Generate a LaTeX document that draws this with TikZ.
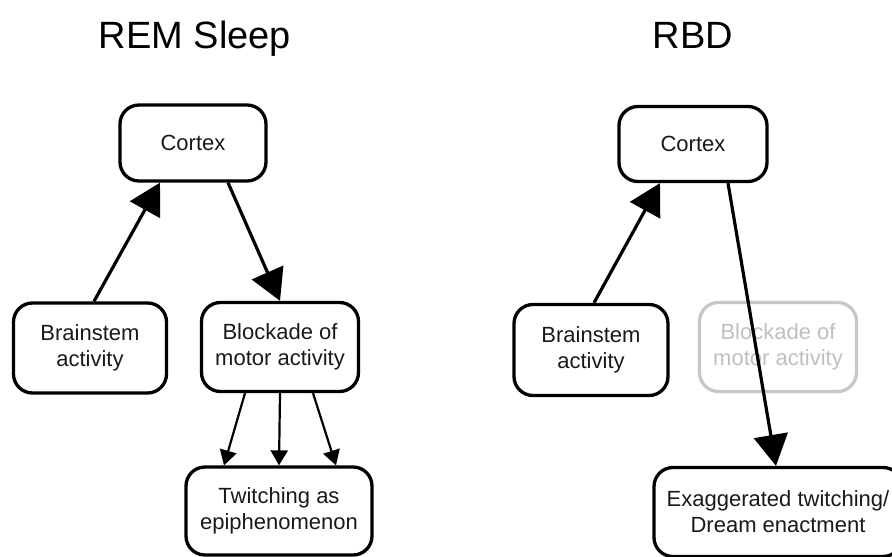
\documentclass[tikz,border=0pt]{standalone}
\usepackage{fontspec}
\setmainfont{Liberation Sans}
\usetikzlibrary{arrows.meta}
\usetikzlibrary{positioning}

\begin{document}
\begin{tikzpicture}[
          x=1pt, y=-1pt,
          box/.style = {rectangle, rounded corners=19pt, draw, line width=3.3pt, align=center, inner sep=0pt,
                        font=\fontsize{22}{26}\selectfont, text=black!90},
          faded/.style = {box, draw=black!22, text=black!25},
          title/.style = {anchor=base, font=\fontsize{38}{44}\selectfont},
          arrow/.style = {line width=3.2pt, -{Triangle[length=31pt,width=34pt]}},
          thin arrow/.style = {line width=2.2pt, -{Triangle[length=15pt,width=17pt]}}
        ]
        \useasboundingbox (0,0) rectangle (892,557);

        % Titles
        \node[title] (remtitle) at (195,48) {REM Sleep};
        \node[title] (rbdtitle) at (693,48) {RBD};

        % Nodes: REM sleep
        \node[box, minimum width=146pt, minimum height=76pt] (cortexL) at (193,143) {Cortex};
        \node[box, minimum width=153pt, minimum height=90pt] (brainL) at (90,348) {Brainstem\\activity};
        \node[box, minimum width=157pt, minimum height=89pt] (blockL) at (280,347) {Blockade of\\motor activity};
        \node[box, minimum width=186pt, minimum height=88pt] (twitchL) at (279,511) {Twitching as\\epiphenomenon};

        % Nodes: RBD
        \node[box, minimum width=148pt, minimum height=75pt] (cortexR) at (693,144) {Cortex};
        \node[box, minimum width=154pt, minimum height=91pt] (brainR) at (591,350) {Brainstem\\activity};
        \node[faded, minimum width=157pt, minimum height=89pt] (blockR) at (778,347) {Blockade of\\motor activity};
        \node[box, minimum width=248pt, minimum height=89pt] (exag) at (778,512) {Exaggerated twitching/\\Dream enactment};

        % Paths: REM sleep
        \draw[arrow] ([xshift=4pt]brainL.north) -- ([xshift=-33pt]cortexL.south);
        \draw[arrow] ([xshift=35pt]cortexL.south) -- (blockL.north);
        \draw[thin arrow] ([xshift=-35pt]blockL.south) -- ([xshift=-55pt]twitchL.north);
        \draw[thin arrow] (blockL.south) -- (twitchL.north);
        \draw[thin arrow] ([xshift=33pt]blockL.south) -- ([xshift=57pt]twitchL.north);

        % Paths: RBD
        \draw[arrow] ([xshift=3pt]brainR.north) -- ([xshift=-33pt]cortexR.south);
        \draw[arrow] ([xshift=35pt]cortexR.south) -- ([xshift=-2pt]exag.north);

      \end{tikzpicture}
\end{document}
